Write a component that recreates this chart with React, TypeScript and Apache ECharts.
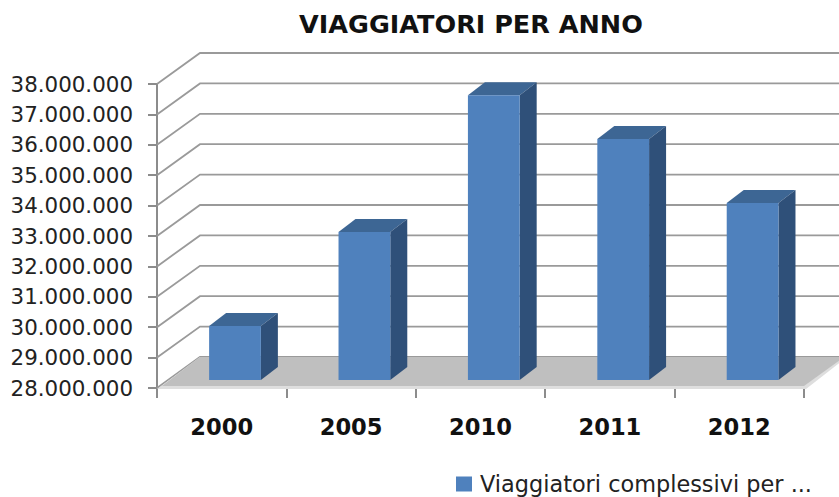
import React, { useEffect, useRef } from "react";
import * as echarts from "echarts";

const categories = ["2000", "2005", "2010", "2011", "2012"];
const passengers = [29780000, 32870000, 37370000, 35930000, 33820000];
const yTicks = [28000000, 29000000, 30000000, 31000000, 32000000, 33000000, 34000000, 35000000, 36000000, 37000000, 38000000];
const titleText = "VIAGGIATORI PER ANNO";
const seriesName = "Viaggiatori complessivi per ...";

const WALL_DX = 43;
const WALL_DY = 31;
const BAR_SHIFT_X = 13.3;
const BAR_SHIFT_Y = 8;
const BAR_DX = 17;
const BAR_DY = 13;

const formatThousands = (v: number) => String(v).replace(/\B(?=(\d{3})+(?!\d))/g, ".");

export default function App() {
  const ref = useRef<HTMLDivElement>(null);
  useEffect(() => {
    document.body.style.margin = "0";
    const chart = echarts.init(ref.current!, null, { renderer: "svg" });
    chart.setOption({
      animation: false,
      backgroundColor: "#ffffff",
      title: {
        text: titleText,
        left: 294,
        top: 6,
        textStyle: { fontFamily: "DejaVu Sans", fontWeight: "bold", fontSize: 25.5, color: "#111111" },
      },
      legend: {
        data: [seriesName],
        left: 451,
        top: 468,
        icon: "rect",
        itemWidth: 16,
        itemHeight: 15,
        selectedMode: false,
        textStyle: { fontFamily: "DejaVu Sans", fontSize: 22.4, color: "#222222", padding: [0, 0, 0, 3] },
      },
      grid: { left: 157, top: 84, width: 647, height: 304 },
      xAxis: {
        type: "category",
        data: categories,
        axisLine: { show: false },
        axisTick: { show: true, length: 10, lineStyle: { color: "#8c8c8c", width: 2 } },
        axisLabel: {
          margin: 27,
          fontFamily: "DejaVu Sans",
          fontWeight: "bold",
          fontSize: 22.6,
          color: "#111111",
        },
        splitLine: { show: false },
      },
      yAxis: {
        type: "value",
        min: 28000000,
        max: 38000000,
        interval: 1000000,
        axisLine: { show: true, lineStyle: { color: "#8c8c8c", width: 2 } },
        axisTick: { show: true, length: 9, lineStyle: { color: "#8c8c8c", width: 2 } },
        axisLabel: {
          margin: 24,
          fontFamily: "DejaVu Sans",
          fontSize: 21.4,
          color: "#222222",
          padding: [7, 0, 0, 0],
          formatter: (v: number) => formatThousands(v),
        },
        splitLine: { show: false },
      },
      series: [
        {
          type: "custom",
          name: "wall",
          z: 1,
          silent: true,
          data: yTicks.map((v) => [0, v]),
          renderItem: (params: any, api: any) => {
            const cs = params.coordSys;
            const y = api.coord([0, api.value(1)])[1];
            return {
              type: "polyline",
              shape: {
                points: [
                  [cs.x, y],
                  [cs.x + WALL_DX, y - WALL_DY],
                  [cs.x + cs.width + WALL_DX, y - WALL_DY],
                ],
              },
              style: { stroke: "#9a9a9a", lineWidth: 1.8, fill: "none" },
            };
          },
        },
        {
          type: "custom",
          name: "floor",
          z: 2,
          silent: true,
          data: [[0, yTicks[0]]],
          renderItem: (params: any, api: any) => {
            const cs = params.coordSys;
            const y = api.coord([0, api.value(1)])[1];
            const l = cs.x;
            const r = cs.x + cs.width;
            return {
              type: "group",
              children: [
                {
                  type: "polygon",
                  shape: { points: [[l, y + 1], [l + WALL_DX, y - WALL_DY], [r + WALL_DX, y - WALL_DY], [r + 2, y + 1]] },
                  style: { fill: "#dedede" },
                },
                {
                  type: "polygon",
                  shape: { points: [[l + 5, y - 2], [l + WALL_DX, y - WALL_DY], [r + WALL_DX - 3, y - WALL_DY], [r, y - 2]] },
                  style: { fill: "#bfbfbf" },
                },
              ],
            };
          },
        },
        {
          type: "custom",
          name: seriesName,
          z: 3,
          itemStyle: { color: "#4f81bd" },
          data: categories.map((_, i) => [i, passengers[i]]),
          encode: { x: 0, y: 1 },
          renderItem: (_params: any, api: any) => {
            const i = api.value(0);
            const center = api.coord([i, api.value(1)]);
            const baseY = api.coord([i, yTicks[0]])[1] - BAR_SHIFT_Y;
            const topY = center[1] - BAR_SHIFT_Y;
            const w = api.size([1, 0])[0] * 0.4;
            const x0 = center[0] + BAR_SHIFT_X - w / 2;
            const x1 = x0 + w;
            return {
              type: "group",
              children: [
                {
                  type: "polygon",
                  shape: { points: [[x0, topY], [x0 + BAR_DX, topY - BAR_DY], [x1 + BAR_DX, topY - BAR_DY], [x1, topY]] },
                  style: { fill: "#3d6694" },
                },
                {
                  type: "polygon",
                  shape: { points: [[x1, topY], [x1 + BAR_DX, topY - BAR_DY], [x1 + BAR_DX, baseY - BAR_DY], [x1, baseY]] },
                  style: { fill: "#2f5079" },
                },
                {
                  type: "rect",
                  shape: { x: x0, y: topY, width: w, height: baseY - topY },
                  style: { fill: "#4f81bd" },
                },
              ],
            };
          },
        },
      ],
    });
    return () => chart.dispose();
  }, []);
  return <div ref={ref} style={{ width: 839, height: 497 }} />;
}
